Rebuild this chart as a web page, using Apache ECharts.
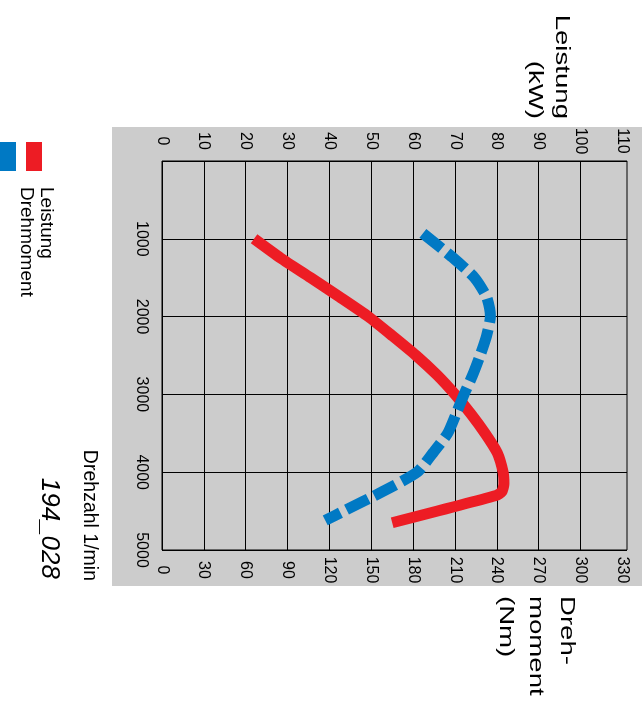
<!DOCTYPE html>
<html>
<head>
<meta charset="utf-8">
<script src="https://cdn.jsdelivr.net/npm/echarts@6/dist/echarts.min.js"></script>
<style>
  html, body { margin: 0; padding: 0; background: #fff; }
  #chart { width: 642px; height: 720px; }
</style>
</head>
<body>
<div id="chart"></div>
<script>
// Engine speed axis (1/min), drawn vertically, increasing downwards
const drehzahlTicks = [0, 1000, 2000, 3000, 4000, 5000];
// Power axis (kW) along the top, torque axis (Nm) along the bottom
const leistungTicks = [0, 10, 20, 30, 40, 50, 60, 70, 80, 90, 100, 110];
const drehmomentTicks = [0, 30, 60, 90, 120, 150, 180, 210, 240, 270, 300, 330];
// The plot frame runs a little past the last labelled tick
const leistungMax = 111.1;
const drehmomentMax = 333.3;
// Inner grid lines stop at this power value
const leistungGridMax = 100;

// Power curve: speed (1/min) and power (kW)
const leistungRpm = [1000, 1250, 1500, 1750, 2000, 2250, 2500, 2750, 3000, 3250, 3500, 3750, 4000, 4150, 4250, 4300, 4650];
const leistungKw  = [22, 28.4, 35.5, 42.5, 49.3, 55.1, 60.7, 65.7, 70, 73.8, 77.2, 80.1, 81.5, 81.7, 81.2, 79.8, 55];

// Torque curve: speed (1/min) and torque (Nm)
const drehmomentRpm = [930, 1250, 1500, 1750, 2000, 2250, 2500, 2750, 3000, 3250, 3500, 3750, 4000, 4250, 4500, 4620];
const drehmomentNm  = [187, 209, 224, 232.7, 235.4, 232.6, 228, 222.7, 216.5, 210.8, 204.8, 194.3, 182.9, 158, 130.2, 117];

const FONT = '"Liberation Sans", Arial, Helvetica, sans-serif';
const RED = '#ed1c24';
const BLUE = '#0079c4';
const CW = -Math.PI / 2; // quarter turn clockwise

const plot = { left: 162, right: 15, top: 161, bottom: 170 };
const plotW = 642 - plot.left - plot.right;
const innerRight = plot.right + plotW * (1 - leistungGridMax / leistungMax);

// plain integers, no thousands separator
const plain = v => String(v);

const tickLabel = {
  rotate: -90, align: 'center', verticalAlign: 'middle', margin: 20,
  fontSize: 16, fontFamily: FONT, color: '#000', showMaxLabel: false, formatter: plain
};

const chart = echarts.init(document.getElementById('chart'), null, { renderer: 'canvas' });

chart.setOption({
  animation: false,
  backgroundColor: '#fff',
  grid: [
    { left: plot.left, right: plot.right, top: plot.top, bottom: plot.bottom,
      show: true, borderColor: '#000', borderWidth: 1, backgroundColor: 'transparent' },
    { left: plot.left, right: innerRight, top: plot.top, bottom: plot.bottom, show: false }
  ],
  xAxis: [
    { type: 'value', gridIndex: 0, position: 'top',
      min: leistungTicks[0], max: leistungMax, interval: leistungTicks[1] - leistungTicks[0],
      axisLine: { show: false }, axisTick: { show: false }, splitLine: { show: false },
      axisLabel: tickLabel },
    { type: 'value', gridIndex: 0, position: 'bottom',
      min: drehmomentTicks[0], max: drehmomentMax, interval: drehmomentTicks[1] - drehmomentTicks[0],
      axisLine: { show: false }, axisTick: { show: false }, splitLine: { show: false },
      axisLabel: tickLabel },
    // vertical grid lines of the plot
    { type: 'value', gridIndex: 1, min: leistungTicks[0], max: leistungGridMax,
      interval: leistungTicks[1] - leistungTicks[0],
      axisLine: { show: false }, axisTick: { show: false }, axisLabel: { show: false },
      splitLine: { show: true, lineStyle: { color: '#000', width: 1 } } }
  ],
  yAxis: [
    { type: 'value', gridIndex: 0, inverse: true,
      min: drehzahlTicks[0], max: drehzahlTicks[drehzahlTicks.length - 1],
      interval: drehzahlTicks[1] - drehzahlTicks[0],
      axisLine: { show: false }, axisTick: { show: false },
      splitLine: { show: true, lineStyle: { color: '#000', width: 1 } },
      axisLabel: { rotate: -90, margin: 13, fontSize: 16, fontFamily: FONT, color: '#000',
                   showMinLabel: false, formatter: plain } },
    { type: 'value', gridIndex: 1, inverse: true,
      min: drehzahlTicks[0], max: drehzahlTicks[drehzahlTicks.length - 1], show: false }
  ],
  series: [
    { name: 'Leistung', type: 'line', xAxisIndex: 0, yAxisIndex: 0,
      data: leistungRpm.map((r, i) => [leistungKw[i], r]),
      symbol: 'none', smooth: 0.2, z: 3,
      lineStyle: { color: RED, width: 11, cap: 'butt', join: 'round' } },
    { name: 'Drehmoment', type: 'line', xAxisIndex: 1, yAxisIndex: 0,
      data: drehmomentRpm.map((r, i) => [drehmomentNm[i], r]),
      symbol: 'none', smooth: 0.2, z: 4,
      lineStyle: { color: BLUE, width: 11, type: [24, 7], cap: 'butt', join: 'round' } }
  ],
  graphic: [
    // grey panel behind the plot
    { type: 'rect', z: -1, silent: true,
      shape: { x: 112, y: 127, width: 530, height: 459 }, style: { fill: '#cccccc' } },
    // axis titles
    { type: 'text', x: 548, y: 119, rotation: CW, scaleX: 1.38, silent: true,
      style: { text: 'Leistung\n(kW)', fontSize: 20, fontFamily: FONT, fill: '#000',
               align: 'right', verticalAlign: 'middle', lineHeight: 27 } },
    { type: 'text', x: 536, y: 596, rotation: CW, scaleX: 1.38, silent: true,
      style: { text: 'Dreh-\nmoment\n(Nm)', fontSize: 20, fontFamily: FONT, fill: '#000',
               align: 'left', verticalAlign: 'middle', lineHeight: 30.5 } },
    { type: 'text', x: 89.5, y: 581, rotation: CW, silent: true,
      style: { text: 'Drehzahl 1/min', fontSize: 19.5, fontFamily: FONT, fill: '#000',
               align: 'right', verticalAlign: 'middle' } },
    { type: 'text', x: 49, y: 579, rotation: CW, silent: true,
      style: { text: '194_028', fontSize: 26, fontStyle: 'italic', fontFamily: FONT, fill: '#000',
               align: 'right', verticalAlign: 'middle' } },
    // legend
    { type: 'rect', silent: true, shape: { x: 26, y: 142, width: 16, height: 29 }, style: { fill: RED } },
    { type: 'rect', silent: true, shape: { x: 0, y: 142, width: 16, height: 29 }, style: { fill: BLUE } },
    { type: 'text', x: 46.6, y: 187, rotation: CW, silent: true,
      style: { text: 'Leistung', fontSize: 19, fontFamily: FONT, fill: '#000',
               align: 'left', verticalAlign: 'middle' } },
    { type: 'text', x: 26.6, y: 187, rotation: CW, silent: true,
      style: { text: 'Drehmoment', fontSize: 19, fontFamily: FONT, fill: '#000',
               align: 'left', verticalAlign: 'middle' } }
  ]
});
</script>
</body>
</html>
